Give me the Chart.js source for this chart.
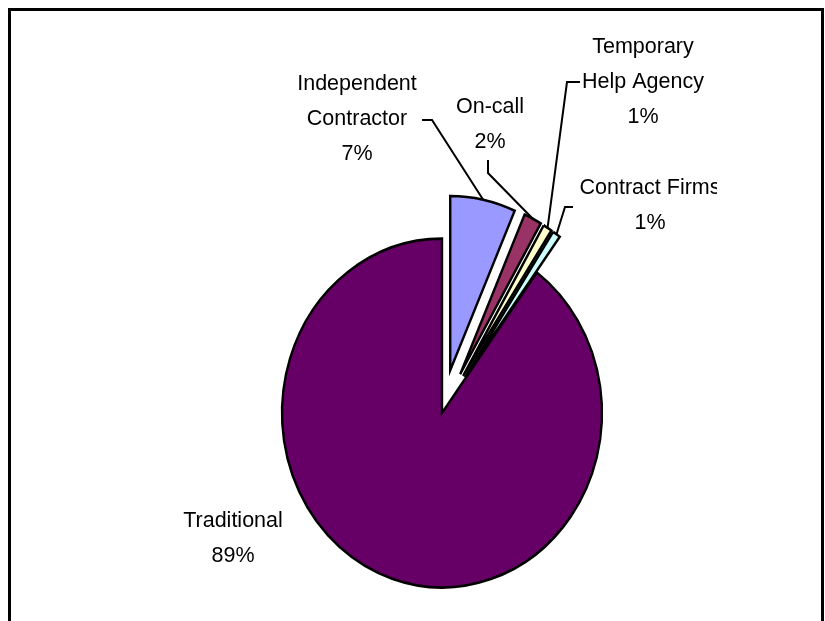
<!DOCTYPE html>
<html>
<head>
<meta charset="utf-8">
<script src="https://cdn.jsdelivr.net/npm/chart.js@4"></script>
<style>
  html, body { margin: 0; padding: 0; background: #fff; }
  #wrap { width: 825px; height: 621px; }
</style>
</head>
<body>
<div id="wrap"><canvas id="myChart"></canvas></div>
<script>
// workforce by arrangement (share, %)
var categories = ["Independent Contractor", "On-call", "Temporary Help Agency", "Contract Firms", "Traditional"];
var shares     = [6.6, 1.8, 0.9, 0.8, 89.9];
var pctLabels  = ["7%", "2%", "1%", "1%", "89%"];
var labelLines = [["Independent", "Contractor"], ["On-call"], ["Temporary", "Help Agency"], ["Contract Firms"], ["Traditional"]];
var colors     = ["#9999FF", "#993366", "#FFFFCC", "#CCFFFF", "#660066"];

// layout bits (label centre of first line, leader start + elbow)
var labelPos = [[357, 84], [490, 107], [643, 47], [650, 188], [233, 521]];
var leaders  = [[422, 120, 432, 120], [488, 160, 488, 173], [580, 82, 567, 82], [573, 207, 565, 207], null];
var explode  = [40, 40, 40, 40, 0];
var squash   = 1.09;
var lineGap  = 35;

function pieCenter(chart) {
    var ca = chart.chartArea;
    return [(ca.left + ca.right) / 2, (ca.top + ca.bottom) / 2];
}

var pieShape = {
    id: 'pieShape',
    beforeDraw: function(chart) {
        var ctx = chart.ctx;
        ctx.save();
        ctx.strokeStyle = '#000';
        ctx.lineWidth = 3;
        ctx.strokeRect(9.5, 9.5, 813, 640);
        ctx.restore();
    },
    beforeDatasetsDraw: function(chart) {
        var c = pieCenter(chart);
        var meta = chart.getDatasetMeta(0);
        meta.data.forEach(function(arc, i) {
            var mid = (arc.startAngle + arc.endAngle) / 2;
            arc.x = c[0] + Math.cos(mid) * explode[i];
            arc.y = c[1] + Math.sin(mid) * explode[i];
        });
        var ctx = chart.ctx;
        ctx.save();
        ctx.translate(c[0], c[1]);
        ctx.scale(1, squash);
        ctx.translate(-c[0], -c[1]);
    },
    afterDatasetsDraw: function(chart) {
        chart.ctx.restore();
    },
    afterDraw: function(chart) {
        var ctx = chart.ctx;
        var c = pieCenter(chart);
        var meta = chart.getDatasetMeta(0);
        ctx.save();
        ctx.beginPath();
        ctx.rect(11, 11, 706, 610);
        ctx.clip();
        ctx.strokeStyle = '#000';
        ctx.lineWidth = 2;
        meta.data.forEach(function(arc, i) {
            var ld = leaders[i];
            if (!ld) return;
            var mid = (arc.startAngle + arc.endAngle) / 2;
            var ex = arc.x + Math.cos(mid) * arc.outerRadius;
            var ey = c[1] + (arc.y - c[1] + Math.sin(mid) * arc.outerRadius) * squash;
            ctx.beginPath();
            ctx.moveTo(ld[0], ld[1]);
            ctx.lineTo(ld[2], ld[3]);
            ctx.lineTo(ex, ey);
            ctx.stroke();
        });
        ctx.fillStyle = '#000';
        ctx.font = "21.5px 'Liberation Sans', Arial, sans-serif";
        ctx.textAlign = 'center';
        ctx.textBaseline = 'middle';
        labelLines.forEach(function(lines, i) {
            var all = lines.concat([pctLabels[i]]);
            all.forEach(function(t, k) {
                ctx.fillText(t, labelPos[i][0], labelPos[i][1] + k * lineGap);
            });
        });
        ctx.restore();
    }
};

var ctx = document.getElementById('myChart').getContext('2d');
var myChart = new Chart(ctx, {
    type: 'pie',
    data: {
        labels: categories,
        datasets: [{
            data: shares,
            backgroundColor: colors,
            borderColor: '#000',
            borderWidth: 2.4,
            borderJoinStyle: 'miter'
        }]
    },
    options: {
        responsive: true,
        maintainAspectRatio: false,
        animation: false,
        radius: 160,
        layout: { padding: { left: 59, right: 0, top: 205, bottom: 0 } },
        plugins: {
            legend: { display: false },
            tooltip: { enabled: false }
        }
    },
    plugins: [pieShape]
});
</script>
</body>
</html>
